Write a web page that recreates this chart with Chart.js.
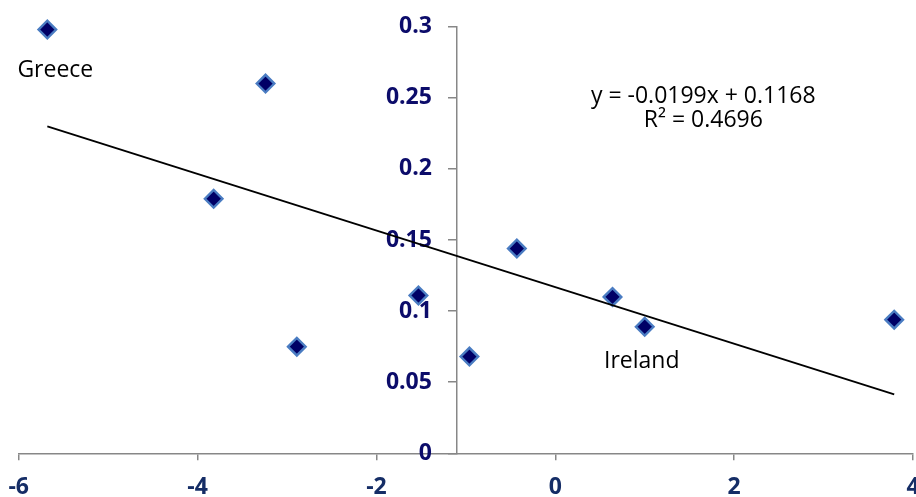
<!DOCTYPE html>
<html>
<head>
<meta charset="utf-8">
<script src="https://cdn.jsdelivr.net/npm/chart.js@4/dist/chart.umd.min.js"></script>
<style>
  html, body { margin: 0; padding: 0; background: #ffffff; }
  #wrap { width: 916px; height: 497px; position: relative; }
</style>
</head>
<body>
<div id="wrap"><canvas id="chart"></canvas></div>
<script>
// Country observations (x, y) with the two named countries
const countries = ['Greece', '', '', '', '', '', '', '', 'Ireland', ''];
const xValues = [-5.68, -3.24, -3.82, -2.89, -1.53, -0.96, -0.43, 0.64, 1.00, 3.79];
const yValues = [0.298, 0.260, 0.179, 0.075, 0.111, 0.068, 0.144, 0.110, 0.089, 0.094];

// Axis ticks
const xTicks = [-6, -4, -2, 0, 2, 4];
const yTicks = [0, 0.05, 0.1, 0.15, 0.2, 0.25, 0.3];

// Linear trend fitted to the observations
const slope = -0.0199;
const intercept = 0.1168;
const rSquared = 0.4696;

const points = xValues.map((x, i) => ({ x, y: yValues[i] }));
const trend = [Math.min(...xValues), Math.max(...xValues)].map(x => ({ x, y: slope * x + intercept }));

const FONT = '"Open Sans", "Liberation Sans", sans-serif';
const AXIS_GREY = '#878787';

// A value axis that crosses the other axis inside the plot: its labels sit
// outside the tick marks, on the left of the crossing line.
class CrossingLinearScale extends Chart.LinearScale {
  _computeLabelItems(chartArea) {
    const items = super._computeLabelItems(chartArea);
    const shift = this.options.grid.tickLength + this.options.ticks.padding;
    items.forEach(it => {
      const t = it.options.translation;
      it.options.translation = [t[0] - shift, t[1]];
    });
    return items;
  }
}
CrossingLinearScale.id = 'crossingLinear';
CrossingLinearScale.defaults = Chart.LinearScale.defaults;
Chart.register(CrossingLinearScale);

// Country names under their markers, plus the trend equation
const annotate = {
  id: 'annotate',
  afterDatasetsDraw(chart, args, opts) {
    const { ctx, scales: { x, y } } = chart;
    const meta = chart.getDatasetMeta(1);
    ctx.save();
    ctx.font = '23px ' + FONT;
    ctx.fillStyle = '#000000';
    ctx.textAlign = 'center';
    ctx.textBaseline = 'alphabetic';
    countries.forEach((name, i) => {
      if (!name) return;
      const p = meta.data[i];
      const off = opts.nameOffsets[name] || [0, 44];
      ctx.fillText(name, p.x + off[0], p.y + off[1]);
    });
    const ex = x.getPixelForValue(opts.equationAt.x);
    const ey = y.getPixelForValue(opts.equationAt.y);
    ctx.fillText(`y = ${slope}x + ${intercept}`, ex, ey);
    ctx.fillText(`R\u00B2 = ${rSquared}`, ex, ey + 23.5);
    ctx.restore();
  }
};

new Chart(document.getElementById('chart'), {
  type: 'scatter',
  data: {
    datasets: [
      {
        type: 'line',
        data: trend,
        borderColor: '#000000',
        borderWidth: 1.8,
        pointRadius: 0,
        fill: false,
        tension: 0,
        clip: false
      },
      {
        data: points,
        pointStyle: 'rectRot',
        pointRadius: 8.8,
        pointHoverRadius: 8.8,
        backgroundColor: '#000066',
        borderColor: '#4a7cc2',
        borderWidth: 2.4,
        clip: false
      }
    ]
  },
  options: {
    responsive: true,
    maintainAspectRatio: false,
    animation: false,
    events: [],
    layout: { autoPadding: false, padding: { left: 18.7, right: 3, top: 26.7, bottom: 0 } },
    plugins: {
      legend: { display: false },
      tooltip: { enabled: false },
      annotate: {
        nameOffsets: { Greece: [8, 47], Ireland: [-3, 41] },
        equationAt: { x: 1.655, y: 0.2462 }
      }
    },
    scales: {
      x: {
        type: 'linear',
        min: -6,
        max: 4,
        afterBuildTicks: s => { s.ticks = xTicks.map(v => ({ value: v })); },
        afterFit: s => { s.height = 43.7; s.paddingLeft = 0; s.paddingRight = 0; },
        grid: {
          display: true,
          drawOnChartArea: false,
          drawTicks: true,
          tickLength: 7,
          color: AXIS_GREY,
          lineWidth: 1.5
        },
        border: { display: true, color: AXIS_GREY, width: 1.5 },
        ticks: {
          padding: 13,
          maxRotation: 0,
          autoSkip: false,
          color: '#152d66',
          font: { family: FONT, size: 23, weight: 'bold' },
          callback: v => String(v)
        }
      },
      y: {
        type: 'crossingLinear',
        min: 0,
        max: 0.3,
        position: { x: -1.1 },
        afterBuildTicks: s => { s.ticks = yTicks.map(v => ({ value: v })); },
        afterFit: s => { s.width = 0; s.paddingTop = 0; s.paddingBottom = 0; s.paddingLeft = 0; s.paddingRight = 0; },
        grid: {
          display: true,
          drawOnChartArea: false,
          drawTicks: true,
          tickLength: 8,
          color: AXIS_GREY,
          lineWidth: 1.5
        },
        border: { display: true, color: AXIS_GREY, width: 1.5 },
        ticks: {
          padding: 17,
          autoSkip: false,
          color: '#0c0c6a',
          font: { family: FONT, size: 23, weight: 'bold' },
          callback: v => String(Number(v.toFixed(2)))
        }
      }
    }
  },
  plugins: [annotate]
});
</script>
</body>
</html>
